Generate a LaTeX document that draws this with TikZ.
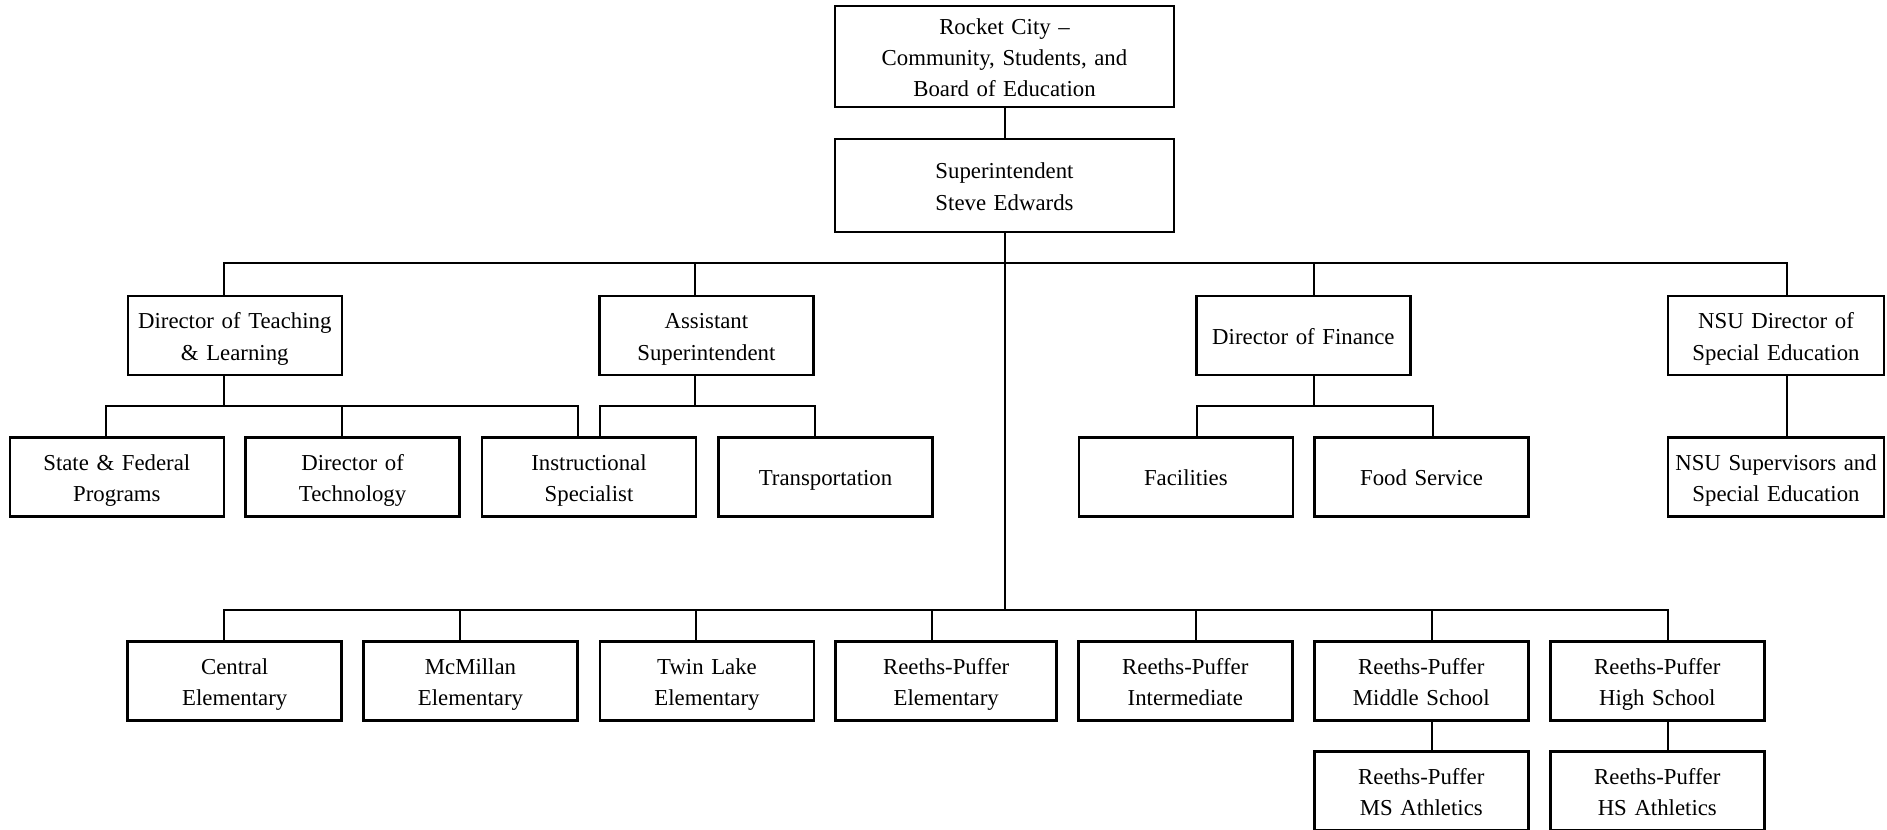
\documentclass[tikz,border=0pt]{standalone}
\usepackage{fontspec}
\setmainfont{Liberation Serif}

\begin{document}
\begin{tikzpicture}[x=0.5pt, y=-0.5pt,
  font=\fontsize{11.4}{15.7}\selectfont,
  box/.style={draw, line width=1.3pt, minimum width=107pt, minimum height=39.5pt,
    inner sep=0pt, text width=104pt, align=center,
    execute at begin node={\rule{0pt}{13.8pt}}, execute at end node=\strut},
  wide/.style={box, minimum width=169.5pt, text width=165pt},
  link/.style={line width=1pt}]
\useasboundingbox (0,0) rectangle (1887,830);
\clip (0,0) rectangle (1887,830);

% Board and superintendent
\node[wide, minimum height=50.5pt] (board) at (1004.5,56.5)
  {Rocket City \textendash\\Community, Students, and\\Board of Education};
\node[wide, minimum height=46.5pt] (supt) at (1004.5,185.5)
  {Superintendent\\Steve Edwards};

% Directors
\node[box] (dtl)  at (234.8,335.5)  {Director of Teaching\\\& Learning};
\node[box] (asst) at (706.4,335.5)  {Assistant\\Superintendent};
\node[box] (dfin) at (1303.4,335.5) {Director of Finance};
\node[box, minimum width=108pt] (nsud) at (1776,335.5) {NSU Director of\\Special Education};

% Second row
\node[box] (sfp)   at (116.8,476.7)  {State \& Federal\\Programs};
\node[box] (dtech) at (352.6,476.7)  {Director of\\Technology};
\node[box] (instr) at (589,476.7)    {Instructional\\Specialist};
\node[box] (trans) at (825.5,476.7)  {Transportation};
\node[box] (fac)   at (1185.8,476.7) {Facilities};
\node[box] (food)  at (1421.5,476.7) {Food Service};
\node[box, minimum width=108pt] (nsus) at (1776,476.7) {NSU Supervisors and\\Special Education};

% Schools
\node[box] (central) at (234.7,681.2)  {Central\\Elementary};
\node[box] (mcm)     at (470.5,681.2)  {McMillan\\Elementary};
\node[box] (twin)    at (707,681.2)    {Twin Lake\\Elementary};
\node[box, minimum width=110.5pt] (rpe) at (946.2,681.2) {Reeths-Puffer\\Elementary};
\node[box] (rpi)     at (1185.3,681.2) {Reeths-Puffer\\Intermediate};
\node[box] (rpm)     at (1421.3,681.2) {Reeths-Puffer\\Middle School};
\node[box] (rph)     at (1657.3,681.2) {Reeths-Puffer\\High School};
\node[box] (rpma)    at (1421.3,791.2) {Reeths-Puffer\\MS Athletics};
\node[box] (rpha)    at (1657.3,791.2) {Reeths-Puffer\\HS Athletics};

% Trunk
\coordinate (trunk) at (1004.5,610);
\draw[link] (board) -- (supt);
\draw[link] (supt) -- (trunk);

% Director bus
\draw[link] ([xshift=-5.5pt]dtl.north) -- ++(0,-32) -| ([xshift=5.5pt]nsud.north);
\draw[link] ([xshift=-5.5pt]asst.north) -- ++(0,-32);
\draw[link] ([xshift=5.5pt]dfin.north) -- ++(0,-32);

% Sub-buses
\foreach \n in {sfp,dtech,instr}
  \draw[link] ([xshift=-5.5pt]dtl.south) -- ++(0,30) -| ([xshift=-5.5pt]\n.north);
\draw[link] ([xshift=-5.5pt]asst.south) -- ++(0,30) -| ([xshift=5.5pt]instr.north);
\draw[link] ([xshift=-5.5pt]asst.south) -- ++(0,30) -| ([xshift=-5.5pt]trans.north);
\foreach \n in {fac,food}
  \draw[link] ([xshift=5.5pt]dfin.south) -- ++(0,30) -| ([xshift=5.5pt]\n.north);
\draw[link] ([xshift=5.5pt]nsud.south) -- ([xshift=5.5pt]nsus.north);

% School bus
\foreach \n/\s in {central/-5.5, mcm/-5.5, twin/-5.5, rpe/-7.25, rpi/5.5, rpm/5.5, rph/5.5}
  \draw[link] (trunk) -| ([xshift=\s pt]\n.north);
\draw[link] ([xshift=5.5pt]rpm.south) -- ([xshift=5.5pt]rpma.north);
\draw[link] ([xshift=5.5pt]rph.south) -- ([xshift=5.5pt]rpha.north);
\end{tikzpicture}
\end{document}
